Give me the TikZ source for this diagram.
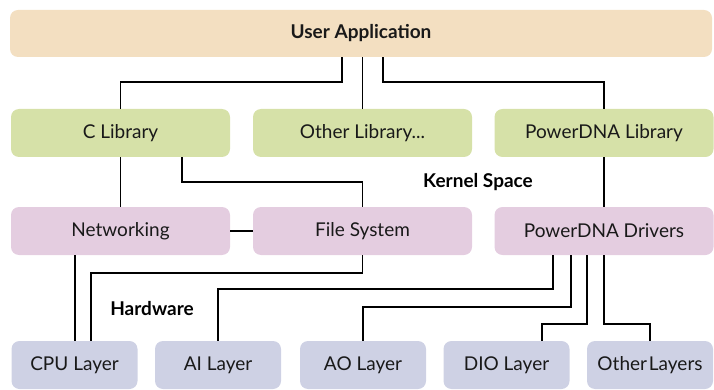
\documentclass[tikz,border=0pt]{standalone}
\usepackage{fontspec}
\setmainfont{Lato}
\definecolor{peach}{HTML}{F3DFC1}
\definecolor{libgreen}{HTML}{D6E1A8}
\definecolor{kernpink}{HTML}{E4CDE0}
\definecolor{hwblue}{HTML}{CED1E4}
\tikzset{
  box/.style={rounded corners=8pt, inner sep=0pt, font=\fontsize{19}{22}\selectfont, text=black!90},
  uabox/.style={box, fill=peach, minimum width=702pt, minimum height=47pt, font=\fontsize{19}{22}\selectfont\bfseries},
  libbox/.style={box, fill=libgreen, minimum width=219pt, minimum height=48pt},
  kbox/.style={box, fill=kernpink, minimum width=219pt, minimum height=48pt},
  hwbox/.style={box, fill=hwblue, minimum width=126pt, minimum height=48pt},
  conn/.style={draw=black, line width=1.5pt},
  lbl/.style={font=\fontsize{19}{22}\selectfont\bfseries, inner sep=0pt}
}
\begin{document}
\begin{tikzpicture}[x=1pt,y=-1pt]
\useasboundingbox (0,0) rectangle (714,390);
\node[uabox] (ua) at (361,33.5) {User Application};
\node[libbox] (cl) at (120.5,133) {C Library};
\node[libbox] (ol) at (362.5,133) {Other Library...};
\node[libbox] (pl) at (604,133) {PowerDNA Library};
\node[kbox] (nw) at (120.5,231) {Networking};
\node[kbox] (fs) at (362.5,231) {File System};
\node[kbox] (pd) at (604,231) {PowerDNA Drivers};
\node[hwbox] (cpu) at (74.5,365) {CPU Layer};
\node[hwbox] (ai) at (218,365) {AI Layer};
\node[hwbox] (ao) at (363,365) {AO Layer};
\node[hwbox] (dio) at (506.5,365) {DIO Layer};
\node[hwbox] (oth) at (650,365) {Other\hspace{0.1em}Layers};
\node[lbl] (ks) at (478,182) {Kernel Space};
\node[lbl] (hw) at (152,309) {Hardware};
\draw[conn] (342,0|-ua.south) -- (342,82) -| (cl.north);
\draw[conn] (ol.north) -- (ol.north|-ua.south);
\draw[conn] (383,0|-ua.south) -- (383,82) -| (pl.north);
\draw[conn] (cl.south) -- (nw.north);
\draw[conn] (182,0|-cl.south) -- (182,182) -| (fs.north);
\draw[conn] (pl.south) -- (pd.north);
\draw[conn] (nw.east) -- (fs.west);
\draw[conn] (75,0|-nw.south) -- (75,0|-cpu.north);
\draw[conn] (fs.south) |- (91,273) -- (91,0|-cpu.north);
\draw[conn] (553,0|-pd.south) -- (553,289) -| (ai.north);
\draw[conn] (571,0|-pd.south) -- (571,307) -| (ao.north);
\draw[conn] (587,0|-pd.south) -- (587,324) -| (542,0|-dio.north);
\draw[conn] (604,0|-pd.south) -- (604,324) -| (oth.north);
\end{tikzpicture}
\end{document}
